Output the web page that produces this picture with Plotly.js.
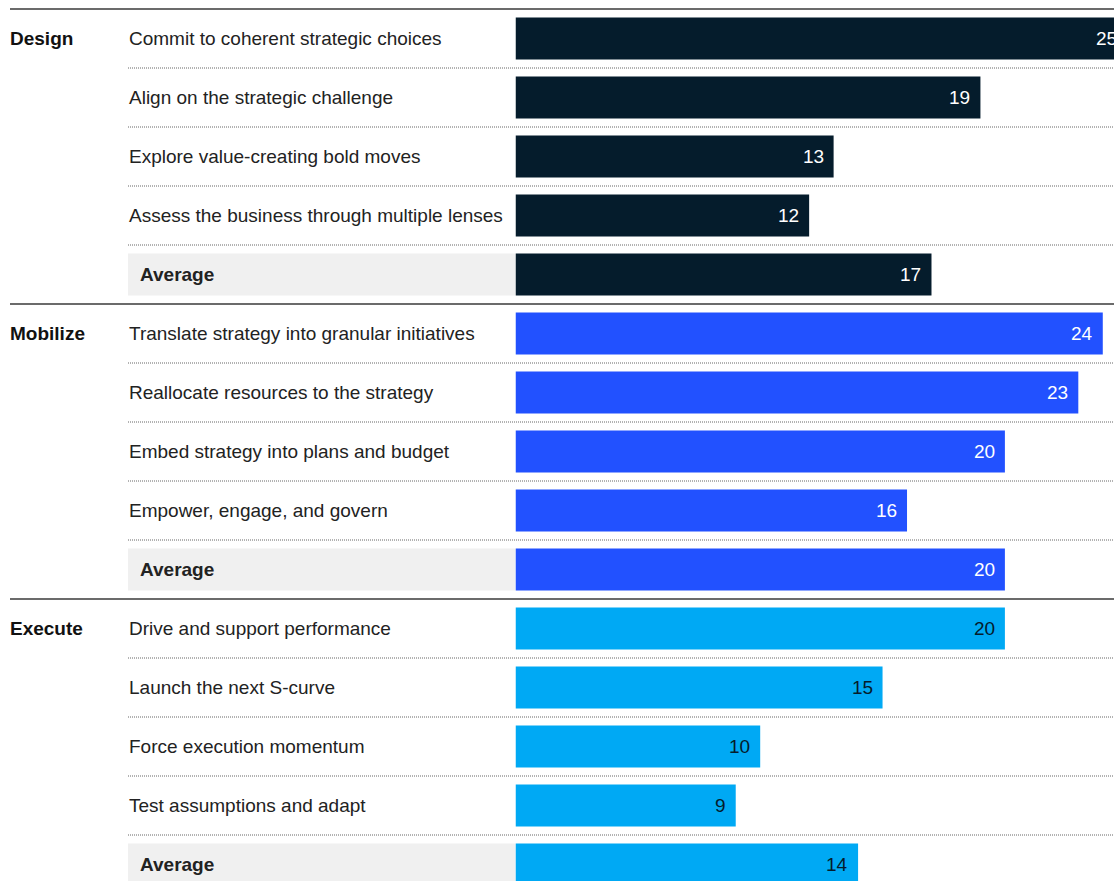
<!DOCTYPE html>
<html><head><meta charset="utf-8">
<script src="https://cdn.plot.ly/plotly-3.0.1.min.js"></script>
<style>html,body{margin:0;padding:0;overflow:hidden;background:#fff;width:1114px;height:881px}#c{width:1140px;height:900px}</style>
</head><body><div id="c"></div>
<script>
const groups = ["Design", "Mobilize", "Execute"];
const labels = [
  "Commit to coherent strategic choices", "Align on the strategic challenge", "Explore value-creating bold moves", "Assess the business through multiple lenses", "Average",
  "Translate strategy into granular initiatives", "Reallocate resources to the strategy", "Embed strategy into plans and budget", "Empower, engage, and govern", "Average",
  "Drive and support performance", "Launch the next S-curve", "Force execution momentum", "Test assumptions and adapt", "Average"
];
const values = [25, 19, 13, 12, 17, 24, 23, 20, 16, 20, 20, 15, 10, 9, 14];
const groupColors = ["#051C2C", "#2251FF", "#00A9F4"];
const textColors = ["#FFFFFF", "#FFFFFF", "#051C2C"];

const W = 1140, H = 900;
const px = v => v / W;
const rows = labels.map((_, i) => i);
const gi = i => Math.floor(i / 5);

const trace = {
  type: "bar", orientation: "h",
  x: values, y: rows,
  marker: {color: rows.map(i => groupColors[gi(i)])},
  width: 0.71, hoverinfo: "none", cliponaxis: true
};

const shapes = [];
const annotations = [];
rows.forEach(i => {
  const isAvg = labels[i] === "Average";
  if (isAvg) {
    shapes.push({type: "rect", xref: "paper", yref: "y", x0: px(128), x1: px(515.5), y0: i - 0.355, y1: i + 0.355, fillcolor: "#F0F0F0", line: {width: 0}, layer: "below"});
  }
  annotations.push({xref: "paper", yref: "y", x: px(isAvg ? 138 : 127), y: i, xanchor: "left", yanchor: "middle", showarrow: false,
    text: isAvg ? "<b>Average</b>" : labels[i], font: {size: 19, color: "#222"}});
  annotations.push({xref: "x", yref: "y", x: values[i], y: i, xanchor: "right", yanchor: "middle", xshift: -8, showarrow: false,
    text: String(values[i]), font: {size: 19, color: textColors[gi(i)]}});
  if (i % 5 === 0) {
    annotations.push({xref: "paper", yref: "y", x: px(8), y: i, xanchor: "left", yanchor: "middle", showarrow: false,
      text: "<b>" + groups[i / 5] + "</b>", font: {size: 19, color: "#111"}});
    shapes.push({type: "line", xref: "paper", yref: "y", x0: px(10), x1: 1, y0: i - 0.5, y1: i - 0.5, line: {color: "#6b6b6b", width: 2}});
  } else {
    shapes.push({type: "line", xref: "paper", yref: "y", x0: px(128), x1: 1, y0: i - 0.5, y1: i - 0.5, line: {color: "#666", width: 1, dash: "1px,1px"}});
  }
});

const layout = {
  width: W, height: H,
  margin: {l: 0, r: 0, t: 0, b: 0},
  paper_bgcolor: "#fff", plot_bgcolor: "rgba(0,0,0,0)",
  font: {family: "Liberation Sans, Arial, sans-serif", size: 19, color: "#222"},
  showlegend: false,
  xaxis: {domain: [515.5 / W, 1], range: [0, (W - 515.5) / 24.47], visible: false, fixedrange: true},
  yaxis: {range: [-0.5 + (H - 9) / 59, -0.5 - 9 / 59], visible: false, fixedrange: true},
  shapes: shapes, annotations: annotations
};
Plotly.newPlot("c", [trace], layout, {displayModeBar: false, staticPlot: true});
</script></body></html>
